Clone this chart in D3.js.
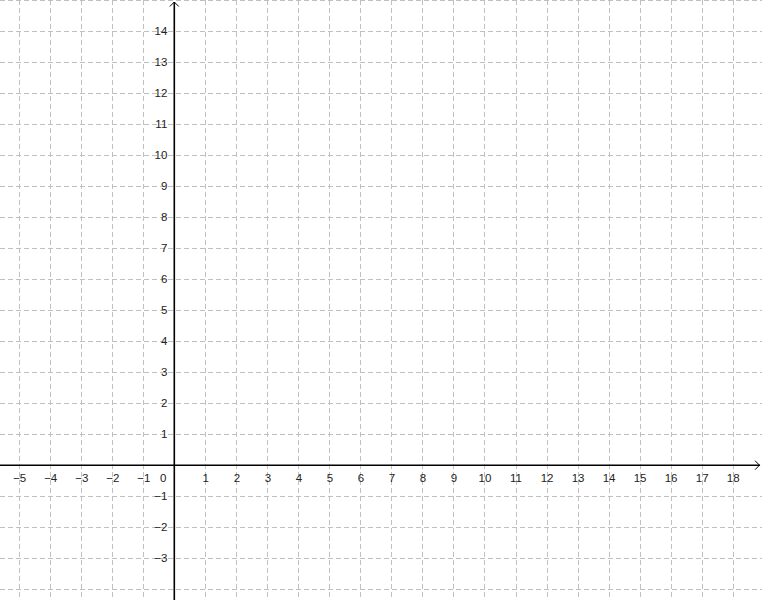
<!DOCTYPE html>
<html>
<head>
<meta charset="utf-8">
<script src="https://cdn.jsdelivr.net/npm/d3@7"></script>
<style>
  html, body { margin: 0; padding: 0; background: #fff; }
  svg { display: block; }
</style>
</head>
<body>
<svg id="chart" width="762" height="600"></svg>
<script>
// View window (graph units)
const viewX = [-5.619, 18.946];
const viewY = [-4.346, 15.0];
// Grid lines
const xGrid = d3.range(-5, 19);      // -5 .. 18
const yGrid = d3.range(-4, 16);      // -4 .. 15
// Tick labels
const xLabels = [-5, -4, -3, -2, -1, 1, 2, 3, 4, 5, 6, 7, 8, 9, 10, 11, 12, 13, 14, 15, 16, 17, 18];
const yLabels = [-3, -2, -1, 1, 2, 3, 4, 5, 6, 7, 8, 9, 10, 11, 12, 13, 14];

const W = 762, H = 600;
const FONT = '"Liberation Sans", Arial, sans-serif';
const FS = 11.5;
const svg = d3.select("#chart");
const x = d3.scaleLinear().domain(viewX).range([0, W]);
const y = d3.scaleLinear().domain(viewY).range([H, 0]);
const fmt = d => (d < 0 ? "\u2212" + Math.abs(d) : String(d));

// grid
const grid = svg.append("g").attr("stroke", "#c0c0c0").attr("stroke-width", 1)
  .attr("stroke-dasharray", "5,3").attr("shape-rendering", "crispEdges");
grid.selectAll("line.v").data(xGrid.filter(d => d !== 0)).join("line")
  .attr("class", "v")
  .attr("x1", d => Math.round(x(d)) + 0.5).attr("x2", d => Math.round(x(d)) + 0.5)
  .attr("y1", 0).attr("y2", H);
grid.selectAll("line.h").data(yGrid.filter(d => d !== 0)).join("line")
  .attr("class", "h")
  .attr("y1", d => Math.round(y(d)) + 0.5).attr("y2", d => Math.round(y(d)) + 0.5)
  .attr("x1", 0).attr("x2", W);

// axes lines
const ox = x(0), oy = y(0);
const axes = svg.append("g").attr("stroke", "#000").attr("stroke-width", 1.6).attr("fill", "none");
axes.append("line").attr("x1", 0).attr("x2", W - 2).attr("y1", oy).attr("y2", oy);
axes.append("line").attr("x1", ox).attr("x2", ox).attr("y1", 2).attr("y2", H);
axes.append("path").attr("stroke-width", 1)
  .attr("d", `M${W - 7},${oy - 4.5} L${W - 2.5},${oy} L${W - 7},${oy + 4.5}`);
axes.append("path").attr("stroke-width", 1)
  .attr("d", `M${ox - 4.5},${6.5} L${ox},${2} L${ox + 4.5},${6.5}`);

function styleText(g) {
  g.attr("font-family", FONT).attr("font-size", FS);
  g.selectAll("text").attr("fill", "#222");
  g.select(".domain").remove();
}

// x tick labels
const xAxis = d3.axisBottom(x).tickValues(xLabels).tickSize(0).tickPadding(9).tickFormat(fmt);
svg.append("g").attr("transform", `translate(0,${oy})`).call(xAxis).call(styleText);

// y tick labels
const yAxis = d3.axisLeft(y).tickValues(yLabels).tickSize(0).tickPadding(7).tickFormat(fmt);
svg.append("g").attr("transform", `translate(${ox},0)`).call(yAxis).call(styleText);

// origin label
svg.append("text")
  .attr("font-family", FONT).attr("font-size", FS).attr("fill", "#222")
  .attr("x", ox - 11).attr("y", oy + 9).attr("dy", "0.71em")
  .attr("text-anchor", "middle").text("0");
</script>
</body>
</html>
